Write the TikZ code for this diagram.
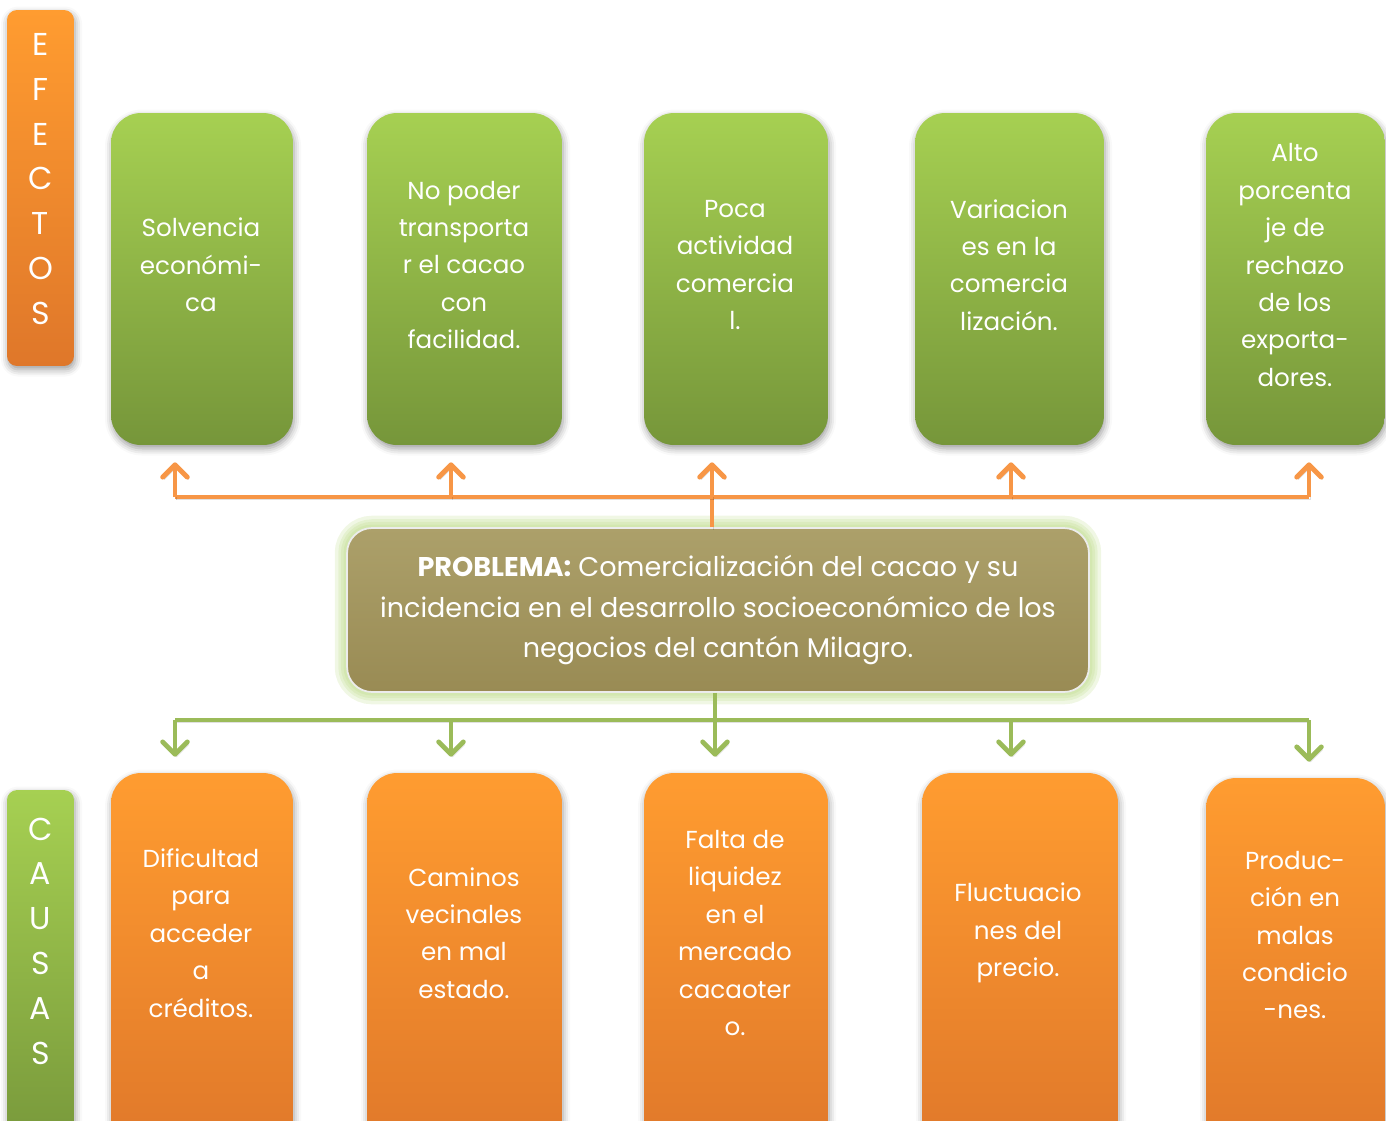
\documentclass[tikz,border=0pt]{standalone}
\usepackage{fontspec}
\setmainfont{Poppins}
\usepackage{tikz}
\usetikzlibrary{arrows.meta,positioning,shadows.blur,calc}
\definecolor{effgreenT}{HTML}{A6D052}
\definecolor{effgreenB}{HTML}{76963A}
\definecolor{causeT}{HTML}{FF9C30}
\definecolor{causeB}{HTML}{DF772A}
\definecolor{probT}{HTML}{ACA06A}
\definecolor{probB}{HTML}{998B54}
\definecolor{lineorange}{HTML}{F79646}
\definecolor{linegreen}{HTML}{9BBB59}
\definecolor{glowgreen}{HTML}{B5D77A}

\begin{document}
\begin{tikzpicture}[
  x=0.02cm,y=-0.02cm,
  box/.style={rectangle,rounded corners=0.6cm,inner sep=0pt,
    blur shadow={shadow xshift=0.6pt,shadow yshift=-2pt,shadow blur radius=4pt,shadow opacity=40}},
  effect/.style={box,top color=effgreenT,bottom color=effgreenB,minimum height=6.64cm},
  cause/.style={box,top color=causeT,bottom color=causeB,minimum height=7.74cm},
  sidebox/.style={box,rounded corners=0.2cm,minimum width=1.34cm},
  boxtext/.style={text=white,align=center,inner sep=0pt,font=\fontsize{14}{21.3}\selectfont},
  sidetext/.style={text=white,align=center,inner sep=0pt,font=\fontsize{18}{25.5}\selectfont},
  glow/.style={preaction={draw=glowgreen,line width=#1,opacity=0.2}},
  problem/.style={rectangle,rounded corners=0.5cm,inner sep=0pt,
    glow=14pt,glow=10pt,glow=7pt,glow=4pt,
    top color=probT,bottom color=probB,
    draw=white!85!gray,line width=1pt,minimum width=14.84cm,minimum height=3.28cm,
    text=white,align=center,font=\fontsize{15.4}{23}\selectfont},
  lineshadow/.style={preaction={draw=black,opacity=0.12,transform canvas={shift={(0.8pt,-1.5pt)}}}},
  oline/.style={draw=lineorange,line width=2.8pt,lineshadow},
  gline/.style={draw=linegreen,line width=2.8pt,lineshadow},
  oarr/.style={oline,-{Straight Barb[length=7pt,width=14pt,line cap=round,line join=round]}},
  garr/.style={gline,-{Straight Barb[length=7pt,width=14pt,line cap=round,line join=round]}}
]
\useasboundingbox (0,0) rectangle (1386,1120);
\clip (0,0) rectangle (1386,1120);

% Side labels
\node[sidebox,top color=causeT,bottom color=causeB,minimum height=7.12cm] (efectos) at (40.5,188) {};
\node[sidetext] (efectostxt) at (40.5,179) {E\\F\\E\\C\\T\\O\\S};
\node[sidebox,top color=effgreenT,bottom color=effgreenB,minimum height=7.4cm] (causas) at (40.5,975) {};
\node[sidetext] (causastxt) at (40.5,941) {C\\A\\U\\S\\A\\S};

% Effects
\node[effect,minimum width=3.64cm] (e1) at (202,279) {};
\node[effect,minimum width=3.9cm] (e2) at (464.5,279) {};
\node[effect,minimum width=3.68cm] (e3) at (736,279) {};
\node[effect,minimum width=3.78cm] (e4) at (1009.5,279) {};
\node[effect,minimum width=3.58cm] (e5) at (1295.5,279) {};
\node[boxtext] (e1txt) at (201,265) {Solvencia\\económi-\\ca};
\node[boxtext] (e2txt) at (464,265) {No poder\\transporta\\r el cacao\\con\\facilidad.};
\node[boxtext] (e3txt) at (735,265) {Poca\\actividad\\comercia\\l.};
\node[boxtext] (e4txt) at (1009,265) {Variacion\\es en la\\comercia\\lización.};
\node[boxtext] (e5txt) at (1295,265) {Alto\\porcenta\\je de\\rechazo\\de los\\exporta-\\dores.};

% Problem
\node[problem] (prob) at (718,610) {\textbf{PROBLEMA:} Comercialización del cacao y su\\incidencia en el desarrollo socioeconómico de los\\negocios del cantón Milagro.};

% Causes
\node[cause,minimum width=3.64cm] (c1) at (202,966.5) {};
\node[cause,minimum width=3.9cm] (c2) at (464.5,966.5) {};
\node[cause,minimum width=3.68cm] (c3) at (736,966.5) {};
\node[cause,minimum width=3.92cm] (c4) at (1020,966.5) {};
\node[cause,minimum width=3.58cm,minimum height=7.64cm] (c5) at (1295.5,969) {};
\node[boxtext] (c1txt) at (201,933) {Dificultad\\para\\acceder\\a\\créditos.};
\node[boxtext] (c2txt) at (464,933) {Caminos\\vecinales\\en mal\\estado.};
\node[boxtext] (c3txt) at (735,933) {Falta de\\liquidez\\en el\\mercado\\cacaoter\\o.};
\node[boxtext] (c4txt) at (1018,933) {Fluctuacio\\nes del\\precio.};
\node[boxtext] (c5txt) at (1295,935) {Produc-\\ción en\\malas\\condicio\\-nes.};

% Bus points
\coordinate (ob1) at (175,497);
\coordinate (ob2) at (451,497);
\coordinate (ob3) at (712,497);
\coordinate (ob4) at (1011,497);
\coordinate (ob5) at (1309,497);
\coordinate (gb1) at (175,720);
\coordinate (gb2) at (451,720);
\coordinate (gb3) at (715,720);
\coordinate (gb4) at (1011,720);
\coordinate (gb5) at (1309,720);

% Arrows to effects
\draw[oline] (prob.north -| ob3) -- (ob3);
\draw[oline] (ob1) -- (ob5);
\foreach \i in {1,...,5}
  \draw[oarr] (ob\i) -- ($(ob\i |- e\i.south)+(0,17)$);

% Arrows to causes
\draw[gline] (prob.south -| gb3) -- (gb3);
\draw[gline] (gb1) -- (gb5);
\foreach \i in {1,...,5}
  \draw[garr] (gb\i) -- ($(gb\i |- c\i.north)+(0,-16)$);

\end{tikzpicture}
\end{document}
